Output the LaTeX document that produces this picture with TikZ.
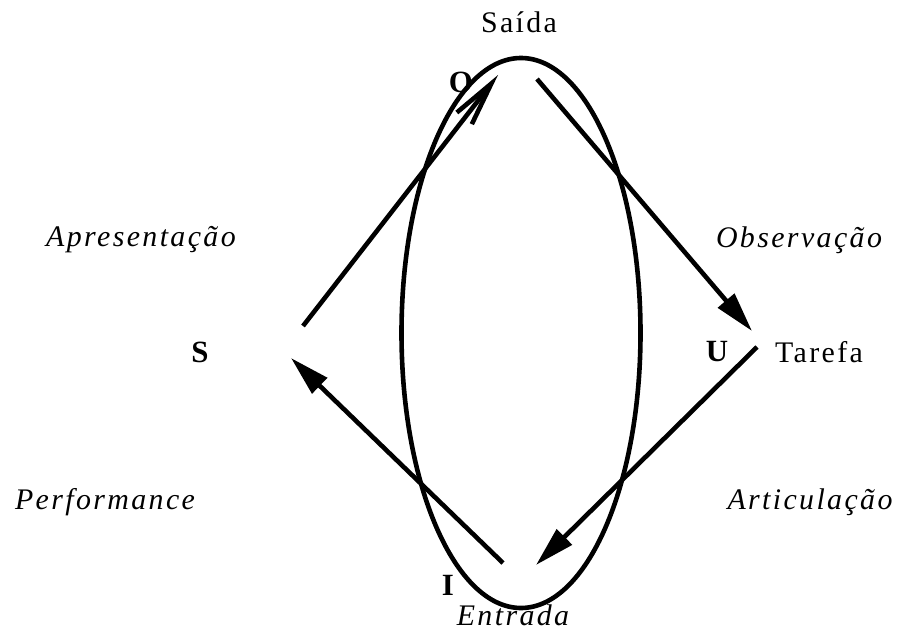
\documentclass[tikz,border=0pt]{standalone}
\usepackage{fontspec}
\setmainfont{Liberation Serif}
\usetikzlibrary{arrows.meta,shapes.geometric}
\begin{document}
\begin{tikzpicture}[x=1bp,y=-1bp,
  lbl/.style={inner sep=0pt,font=\fontsize{30}{34}\selectfont\addfontfeatures{LetterSpace=8}},
  ilbl/.style={lbl,font=\fontsize{30}{34}\selectfont\itshape\addfontfeatures{LetterSpace=8}},
  blbl/.style={inner sep=0pt,font=\fontsize{31}{34}\selectfont\bfseries},
  conn/.style={line width=4.6bp},
  filledtip/.style={conn,-{Triangle[length=40bp,width=21bp]}},
  opentip/.style={conn,-{Straight Barb[length=44bp,width=19bp,line width=4.6bp]}}]
\useasboundingbox (0,0) rectangle (900,630);
\node[ellipse,draw,line width=4.6bp,minimum width=239bp,minimum height=550bp,inner sep=0pt] (loop) at (521,333) {};
\node[lbl] (saida) at (519,22) {Saída};
\node[blbl] (o) at (461,82) {O};
\node[ilbl] (apres) at (141,240) {Apresentação};
\node[ilbl] (obs) at (799,240) {Observação};
\node[blbl] (s) at (200,352) {S};
\node[blbl] (u) at (717,352) {U};
\node[lbl] (tarefa) at (819,352) {Tarefa};
\node[ilbl] (perf) at (105,502) {Performance};
\node[ilbl] (artic) at (810,502) {Articulação};
\node[blbl] (i) at (448,585) {I};
\node[ilbl] (entr) at (513,615) {Entrada};
\coordinate (a1s) at (303,326);
\coordinate (a1e) at (498,75);
\coordinate (a2s) at (537,79);
\coordinate (a2e) at (752,331);
\coordinate (a3s) at (757,347);
\coordinate (a3e) at (536,565);
\coordinate (a4s) at (503,563);
\coordinate (a4e) at (291,358);
\draw[opentip] (a1s) -- (a1e);
\draw[filledtip] (a2s) -- (a2e);
\draw[filledtip] (a3s) -- (a3e);
\draw[filledtip] (a4s) -- (a4e);
\end{tikzpicture}
\end{document}
